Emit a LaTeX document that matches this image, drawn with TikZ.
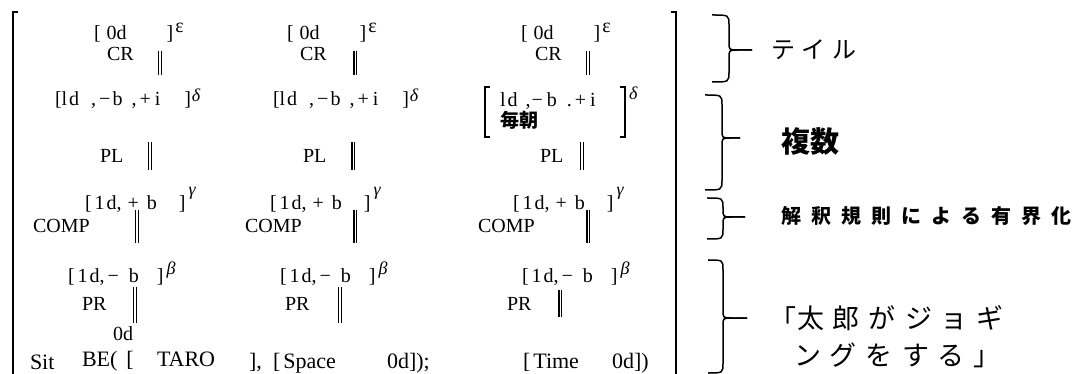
\documentclass[tikz,border=0pt]{standalone}
\usepackage{fontspec}
\setmainfont{Liberation Serif}
\newfontfamily\cjk{Noto Sans CJK JP}
% horizontal kern in pt
\newcommand\sk[1]{\hspace{#1pt}}
% raised italic Greek index
\newcommand\up[2]{\raisebox{#1pt}{\fontsize{18}{18}\selectfont\itshape #2}}
% feature bundles
\newcommand\eps{[\sk{6}0d\sk{40}]\sk{2}\raisebox{7pt}{ε}}
\newcommand\ldbi{[l\sk{2}d\sk{12},\sk{3}−\sk{2}b\sk{9},\sk{3}+\sk{4}i\sk{24}]\sk{1}\up{4}{δ}}
\newcommand\ldpb{[\sk{3}1\sk{2}d,\sk{6}+\sk{8}b\sk{22}]\sk{3}\up{14}{γ}}
\newcommand\ldmb{[\sk{3}1\sk{2}d,\sk{3}−\sk{10}b\sk{18}]\sk{3}\up{9}{β}}
% curly brace: end x, top y, bottom y, spine x, tip x, tip y
\newcommand\curlyb[6]{%
  \draw[brc] (#1,#2) .. controls (#4,#2) .. (#4,#2+10) -- (#4,#6-8)
    .. controls (#4,#6) .. (#4+9,#6) -- (#5,#6);
  \draw[brc] (#5,#6) -- (#4+9,#6) .. controls (#4,#6) .. (#4,#6+8)
    -- (#4,#3-10) .. controls (#4,#3) .. (#1,#3);}
\begin{document}
\begin{tikzpicture}[x=1pt,y=-1pt,
  every node/.style={inner sep=0pt,outer sep=0pt},
  tx/.style={anchor=base west,font=\fontsize{20}{20}\selectfont},
  bt/.style={anchor=base west,font=\fontsize{22}{22}\selectfont},
  jp/.style={anchor=west},
  rail/.style={double=white,double distance=1.8pt,line width=1.1pt},
  railb/.style={double=white,double distance=0.8pt,line width=1.7pt},
  frame/.style={line width=1.8pt},
  brc/.style={line width=1.5pt},
  sq/.style={line width=1.2pt}]
\useasboundingbox (0,0) rectangle (1082,374);

% outer square bracket of the structure
\draw[frame] (18,12) -- (13,12) -- (13,374);
\draw[frame] (671,12) -- (676,12) -- (676,374);

% ---- column 1 ----
\node[tx] (e1) at (94,40) {\eps};
\node[tx] (cr1) at (107,61) {CR};
\node[tx] (d1) at (55,106) {\ldbi};
\node[tx] (pl1) at (100,163) {PL};
\node[tx] (g1) at (85,210) {\ldpb};
\node[tx] (cp1) at (33,233) {COMP};
\node[tx] (b1) at (68,283) {\ldmb};
\node[tx] (pr1) at (82,310) {PR};
\node[tx] (z1) at (113,340) {0d};
\coordinate (r1a) at (160,51);  \coordinate (r1b) at (160,75);
\coordinate (r2a) at (150,142); \coordinate (r2b) at (150,170);
\coordinate (r3a) at (137,210); \coordinate (r3b) at (137,243);
\coordinate (r4a) at (135,287); \coordinate (r4b) at (135,323);
\draw[rail] (r1a) -- (r1b);
\draw[rail] (r2a) -- (r2b);
\draw[rail] (r3a) -- (r3b);
\draw[rail] (r4a) -- (r4b);

% ---- column 2 ----
\node[tx] (e2) at (287,40) {\eps};
\node[tx] (cr2) at (300,61) {CR};
\node[tx] (d2) at (273,106) {\ldbi};
\node[tx] (pl2) at (303,163) {PL};
\node[tx] (g2) at (270,210) {\ldpb};
\node[tx] (cp2) at (245,233) {COMP};
\node[tx] (b2) at (280,283) {\ldmb};
\node[tx] (pr2) at (285,310) {PR};
\coordinate (s1a) at (355,51);  \coordinate (s1b) at (355,75);
\coordinate (s2a) at (353,142); \coordinate (s2b) at (353,170);
\coordinate (s3a) at (355,210); \coordinate (s3b) at (355,243);
\coordinate (s4a) at (340,287); \coordinate (s4b) at (340,323);
\draw[railb] (s1a) -- (s1b);
\draw[railb] (s2a) -- (s2b);
\draw[railb] (s3a) -- (s3b);
\draw[rail] (s4a) -- (s4b);

% ---- column 3 ----
\node[tx] (e3) at (521,40) {\eps};
\node[tx] (cr3) at (535,61) {CR};
\draw[sq] (490,87) -- (485,87) -- (485,137) -- (490,137);
\draw[sq] (620,87) -- (625,87) -- (625,137) -- (620,137);
\node[tx] (d3) at (500,107) {l\sk{2}d\sk{8},\sk{1}−\sk{4}b\sk{10}.\sk{3}+\sk{4}i};
\node[anchor=base west,font=\cjk\bfseries\fontsize{19}{19}\selectfont] (m3) at (500,128) {毎朝};
\node[tx] (dl3) at (629,100) {\up{0}{δ}};
\node[tx] (pl3) at (540,163) {PL};
\node[tx] (g3) at (513,210) {\ldpb};
\node[tx] (cp3) at (478,233) {COMP};
\node[tx] (b3) at (522,283) {\ldmb};
\node[tx] (pr3) at (507,310) {PR};
\coordinate (t1a) at (588,51);  \coordinate (t1b) at (588,75);
\coordinate (t2a) at (582,142); \coordinate (t2b) at (582,170);
\coordinate (t3a) at (588,210); \coordinate (t3b) at (588,243);
\coordinate (t4a) at (560,290); \coordinate (t4b) at (560,317);
\draw[rail] (t1a) -- (t1b);
\draw[rail] (t2a) -- (t2b);
\draw[railb] (t3a) -- (t3b);
\draw[railb] (t4a) -- (t4b);

% ---- bottom line ----
\node[bt] (sit) at (30,369) {Sit};
\node[bt] (be) at (82,366) {BE(\sk{9}[};
\node[bt] (taro) at (157,366) {TARO};
\node[bt] (cm) at (249,368) {],};
\node[bt] (sp) at (273,368) {[\sk{3}Space};
\node[bt] (sz) at (387,368) {0d]);};
\node[bt] (tm) at (523,368) {[\sk{3}Time};
\node[bt] (tz) at (612,368) {0d])};

% ---- braces and their labels ----
\curlyb{712}{15}{82}{729}{752}{50}
\curlyb{705}{95}{190}{722}{740}{138}
\curlyb{707}{198}{239}{723}{745}{217}
\curlyb{708}{260}{373}{723}{747}{318}
\node[jp,font=\cjk\fontsize{24}{24}\selectfont] (l1) at (771,50) {テ\sk{7}イ\sk{7}ル};
\node[jp,font=\cjk\bfseries\fontsize{29}{29}\selectfont] (l2) at (781,142) {複数};
\node[jp,font=\cjk\bfseries\fontsize{20}{20}\selectfont] (l3) at (781,216) {解\sk{10}釈\sk{10}規\sk{10}則\sk{10}に\sk{10}よ\sk{10}る\sk{10}有\sk{10}界\sk{10}化};
\node[jp,font=\cjk\fontsize{27}{27}\selectfont] (l4a) at (769,318) {「};
\node[jp,font=\cjk\fontsize{27}{27}\selectfont] (l4b) at (797,318) {太\sk{9}郎\sk{9}が\sk{9}ジ\sk{9}ョ\sk{9}ギ};
\node[jp,font=\cjk\fontsize{27}{27}\selectfont] (l4c) at (794,355) {ン\sk{9}グ\sk{9}を\sk{9}す\sk{9}る\sk{9}」};
\end{tikzpicture}
\end{document}
